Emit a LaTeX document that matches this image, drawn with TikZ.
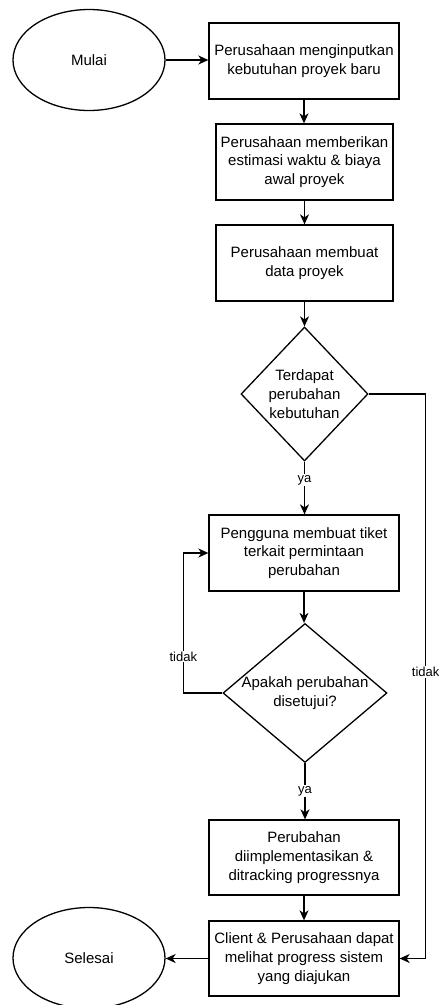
\documentclass[tikz,border=0pt]{standalone}
\usepackage{fontspec}
\setmainfont{Liberation Sans}
\usetikzlibrary{shapes.geometric,arrows.meta}
\begin{document}
\begin{tikzpicture}[x=1pt,y=-1pt,
  every node/.style={font=\fontsize{15}{18.8}\selectfont, text=black},
  process/.style={draw, line width=1.3pt, align=center, inner sep=0pt},
  terminal/.style={draw, ellipse, line width=1.3pt, minimum width=152pt, minimum height=101pt, inner sep=0pt},
  decision/.style={draw, diamond, line width=1.3pt, inner sep=0pt},
  flow/.style={line width=1.3pt, -{Stealth[length=10pt,width=9pt,inset=3pt]}},
  edgelabel/.style={fill=white, inner sep=1pt, font=\fontsize{13}{15}\selectfont}]
\useasboundingbox (0,0) rectangle (439,1005);

% start and end
\node[terminal] (mulai) at (89,60) {Mulai};
\node[terminal] (selesai) at (89,958) {Selesai};

% process steps
\node[process, minimum width=190pt, minimum height=76pt] (b1) at (304,61)
  {Perusahaan menginputkan\\kebutuhan proyek baru};
\node[process, minimum width=177pt, minimum height=76pt] (b2) at (304.5,162)
  {Perusahaan memberikan\\estimasi waktu \& biaya\\awal proyek};
\node[process, minimum width=177pt, minimum height=76pt] (b3) at (304.5,263)
  {Perusahaan membuat\\data proyek};
\node[process, minimum width=190pt, minimum height=76pt] (b4) at (304,553)
  {Pengguna membuat tiket\\terkait permintaan\\perubahan};
\node[process, minimum width=190pt, minimum height=75pt] (b5) at (304,857.5)
  {Perubahan\\diimplementasikan \&\\ditracking progressnya};
\node[process, minimum width=190pt, minimum height=75pt] (b6) at (304,958.5)
  {Client \& Perusahaan dapat\\melihat progress sistem\\yang diajukan};

% decisions
\node[decision, minimum width=127pt, minimum height=134pt,
  label={[align=center]center:Terdapat\\perubahan\\kebutuhan}] (d1) at (304.5,394) {};
\node[decision, minimum width=164pt, minimum height=139pt,
  label={[align=center]center:Apakah perubahan\\disetujui?}] (d2) at (305,693) {};

% connectors
\draw[flow] (mulai.east) -- (mulai.east -| b1.west);
\draw[flow] (b1.south) -- (b1.south |- b2.north);
\draw[flow] (b2.south) -- (b2.south |- b3.north);
\draw[flow] (b3.south) -- (b3.south |- d1.north);
\draw[flow] (d1.south) -- node[edgelabel, pos=0.35] {ya} (d1.south |- b4.north);
\draw[flow] (b4.south) -- (b4.south |- d2.north);
\draw[flow] (d2.west) -- ++(-39,0) |- node[edgelabel, pos=0.13] {tidak} (b4.west);
\draw[flow] (d2.south) -- node[edgelabel, pos=0.5] {ya} (d2.south |- b5.north);
\draw[flow] (b5.south) -- (b5.south |- b6.north);
\draw[flow] (d1.east) -- ++(57,0) |- node[edgelabel, pos=0.246] {tidak} (b6.east);
\draw[flow] (b6.west) -- (b6.west -| selesai.east);
\end{tikzpicture}
\end{document}
